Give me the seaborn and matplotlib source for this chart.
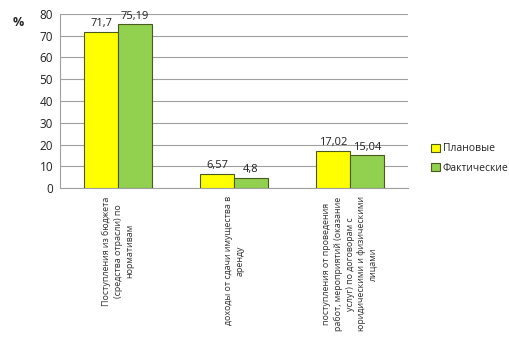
import matplotlib
matplotlib.use('Agg')
import matplotlib.pyplot as plt
import seaborn as sns
import pandas as pd

categories = [
    'Поступления из бюджета\n(средства отрасли) по\nнормативам',
    'доходы от сдачи имущества в\nаренду',
    'поступления от проведения\nработ, мероприятий (оказание\nуслуг) по договорам с\nюридическими и физическими\nлицами',
]
series = ['Плановые', 'Фактические']
planned = [71.7, 6.57, 17.02]
actual = [75.19, 4.8, 15.04]
value_labels = {'Плановые': ['71,7', '6,57', '17,02'],
                'Фактические': ['75,19', '4,8', '15,04']}
colors = ['#FFFF00', '#92D050']

df = pd.DataFrame({
    'category': categories * 2,
    'series': [series[0]] * 3 + [series[1]] * 3,
    'value': planned + actual,
})

sns.set_style('white')
plt.rcParams['font.family'] = ['Open Sans', 'DejaVu Sans']

fig = plt.figure(figsize=(5.09, 3.53), dpi=100)
ax = fig.add_axes([60 / 509, 1 - 188 / 353, 348 / 509, 174 / 353])

sns.barplot(data=df, x='category', y='value', hue='series', palette=colors,
            saturation=1, width=0.58, edgecolor='#4a5a1e', linewidth=0.8,
            ax=ax, zorder=3)

for container, s in zip(ax.containers, series):
    ax.bar_label(container, labels=value_labels[s], padding=2, fontsize=8, color='#222222')

ax.set_ylim(0, 80)
ax.set_yticks(range(0, 81, 10))
ax.yaxis.grid(True, color='#a0a0a0', linewidth=0.8, zorder=0)
ax.tick_params(axis='y', labelsize=8.5, length=3, color='#a0a0a0', pad=2, labelcolor='#222222')
ax.tick_params(axis='x', length=0, pad=6)
ax.set_xticks(range(len(categories)))
ax.set_xticklabels(categories, rotation=90, ha='center', va='top',
                   multialignment='center', fontsize=6.4, color='#333333',
                   linespacing=1.35)
ax.set_xlabel('')
ax.set_ylabel('')
for side in ['top', 'right']:
    ax.spines[side].set_visible(False)
ax.spines['left'].set_color('#a0a0a0')
ax.spines['bottom'].set_color('#a0a0a0')

fig.text(18 / 509, 1 - 22 / 353, '%', fontsize=9, fontweight='bold', ha='center', va='center')

ax.legend(loc='center left', bbox_to_anchor=(1.04, 0.17), frameon=False, fontsize=7.5,
          handlelength=0.8, handleheight=0.8, handletextpad=0.3, labelspacing=0.8)

fig.savefig('out.png', dpi=100)
